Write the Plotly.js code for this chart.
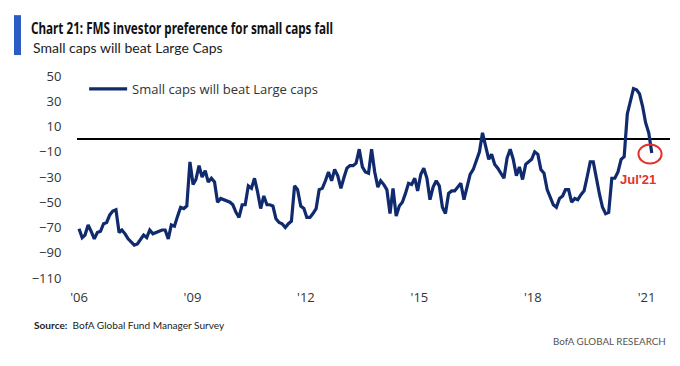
<!DOCTYPE html>
<html>
<head>
<meta charset="utf-8">
<script src="https://cdn.plot.ly/plotly-3.0.1.min.js"></script>
<style>
  html, body { margin: 0; padding: 0; background: #ffffff; }
  #chart { width: 680px; height: 366px; }
</style>
</head>
<body>
<div id="chart"></div>
<script>
// Monthly FMS readings, Jan 2006 .. Jul 2021 (net % saying small caps will beat large caps)
const startYear = 2006;
const startMonth = 1;
const smallCapsNet = [
  -71,-78,-76,-68,-73,-79,-74,-73,-67,-66,
  -60,-57,-56,-74,-72,-75,-79,-82,-84,-83,
  -79,-76,-78,-72,-75,-74,-73,-72,-72,-79,
  -68,-69,-61,-54,-55,-53,-18,-36,-32,-21,
  -30,-25,-34,-31,-34,-50,-47,-48,-49,-50,
  -52,-58,-62,-52,-52,-37,-39,-31,-42,-55,
  -45,-52,-52,-53,-63,-66,-67,-70,-67,-65,
  -37,-40,-53,-55,-62,-62,-59,-55,-40,-39,
  -33,-26,-33,-24,-29,-39,-31,-23,-21,-21,
  -19,-8,-22,-26,-27,-8,-26,-38,-33,-36,
  -40,-59,-39,-61,-53,-50,-43,-35,-36,-31,
  -41,-28,-23,-31,-48,-38,-33,-37,-54,-59,
  -43,-41,-41,-38,-35,-48,-38,-28,-24,-17,
  -10,5,-6,-16,-12,-20,-23,-27,-31,-15,
  -8,-16,-29,-22,-32,-20,-18,-16,-10,-12,
  -24,-27,-40,-46,-52,-54,-47,-45,-40,-40,
  -50,-47,-48,-44,-41,-30,-18,-18,-32,-44,
  -54,-59,-58,-31,-31,-26,-16,-14,20,29,
  40,39,36,26,13,5,-11
];
const seriesName = "Small caps will beat Large caps";
const yTickVals = [50, 30, 10, -10, -30, -50, -70, -90, -110];
const xTickText = ["'06", "'09", "'12", "'15", "'18", "'21"];
const xTickDates = ["2006-01-01", "2009-01-26", "2012-02-21", "2015-03-19", "2018-04-13", "2021-05-10"];
const calloutLabel = "Jul'21";

const months = smallCapsNet.map((v, i) => {
  const m0 = (startMonth - 1) + i;
  const y = startYear + Math.floor(m0 / 12);
  const m = (m0 % 12) + 1;
  return y + "-" + String(m).padStart(2, "0") + "-01";
});

const bodyFont = "Open Sans, Noto Sans, sans-serif";
const humanFont = "Lato, Open Sans, sans-serif";

const trace = {
  type: "scatter",
  mode: "lines",
  x: months,
  y: smallCapsNet,
  name: seriesName,
  line: { color: "#102a6e", width: 3.2 },
  hoverinfo: "skip"
};

const layout = {
  width: 680,
  height: 366,
  paper_bgcolor: "#ffffff",
  plot_bgcolor: "#ffffff",
  margin: { l: 77, r: 10, t: 76, b: 87.5, pad: 0 },
  showlegend: true,
  legend: {
    x: 0.012, y: 1.01, xanchor: "left", yanchor: "top",
    bgcolor: "rgba(0,0,0,0)",
    font: { family: bodyFont, size: 13, color: "#333333" },
    itemwidth: 38
  },
  title: {
    text: "<b>Chart 21: FMS investor preference for small caps fall</b>",
    xref: "container", yref: "container",
    x: 31 / 680, xanchor: "left",
    y: 1 - 28 / 366, yanchor: "middle",
    font: { family: "Noto Sans, Open Sans, sans-serif", size: 16.5, color: "#111111" }
  },
  xaxis: {
    type: "date",
    range: ["2005-12-12", "2021-12-28"],
    showgrid: false,
    zeroline: false,
    showline: false,
    tickmode: "array",
    tickvals: xTickDates,
    ticktext: xTickText,
    ticks: "outside",
    ticklen: 7,
    tickcolor: "rgba(0,0,0,0)",
    tickfont: { family: bodyFont, size: 13, color: "#333333" },
    fixedrange: true
  },
  yaxis: {
    range: [-110, 50],
    showgrid: false,
    zeroline: true,
    zerolinecolor: "#000000",
    zerolinewidth: 2,
    showline: false,
    tickmode: "array",
    tickvals: yTickVals,
    ticks: "outside",
    ticklen: 12,
    tickcolor: "rgba(0,0,0,0)",
    tickfont: { family: bodyFont, size: 13, color: "#333333" },
    fixedrange: true
  },
  shapes: [
    {
      type: "rect", xref: "paper", yref: "paper",
      x0: (14 - 77) / 593, x1: (21 - 77) / 593,
      y0: (278.5 - 55) / 202.5, y1: (278.5 - 15) / 202.5,
      fillcolor: "#2c5bc6", line: { width: 0 }
    },
    {
      type: "circle", xref: "x", yref: "y",
      x0: "2021-02-19", x1: "2021-10-06",
      y0: -19.4, y1: -4.3,
      line: { color: "#e0332b", width: 2 }
    }
  ],
  annotations: [
    {
      text: "Small caps will beat Large Caps",
      xref: "paper", yref: "paper",
      x: (31 - 77) / 593, xanchor: "left",
      y: (278.5 - 47) / 202.5, yanchor: "middle",
      showarrow: false,
      font: { family: humanFont, size: 14, color: "#222222" }
    },
    {
      text: "<b>" + calloutLabel + "</b>",
      xref: "x", yref: "y",
      x: "2021-02-10", y: -32,
      xanchor: "center", yanchor: "middle",
      showarrow: false,
      font: { family: "Liberation Sans, Arial, sans-serif", size: 13, color: "#e0332b" }
    },
    {
      text: "<b>Source:</b>  BofA Global Fund Manager Survey",
      xref: "paper", yref: "paper",
      x: (32 - 77) / 593, xanchor: "left",
      y: (278.5 - 326) / 202.5, yanchor: "middle",
      showarrow: false,
      font: { family: humanFont, size: 10.1, color: "#222222" }
    },
    {
      text: "BofA GLOBAL RESEARCH",
      xref: "paper", yref: "paper",
      x: (668 - 77) / 593, xanchor: "right",
      y: (278.5 - 342) / 202.5, yanchor: "middle",
      showarrow: false,
      font: { family: humanFont, size: 9.8, color: "#555555" }
    }
  ]
};

Plotly.newPlot("chart", [trace], layout, { displayModeBar: false, staticPlot: true }).then(function () {
  // The report title uses a condensed bold face; compress the real text to its width.
  const t = document.querySelector("#chart .gtitle");
  if (t) {
    t.setAttribute("textLength", "302");
    t.setAttribute("lengthAdjust", "spacingAndGlyphs");
  }
});
</script>
</body>
</html>
